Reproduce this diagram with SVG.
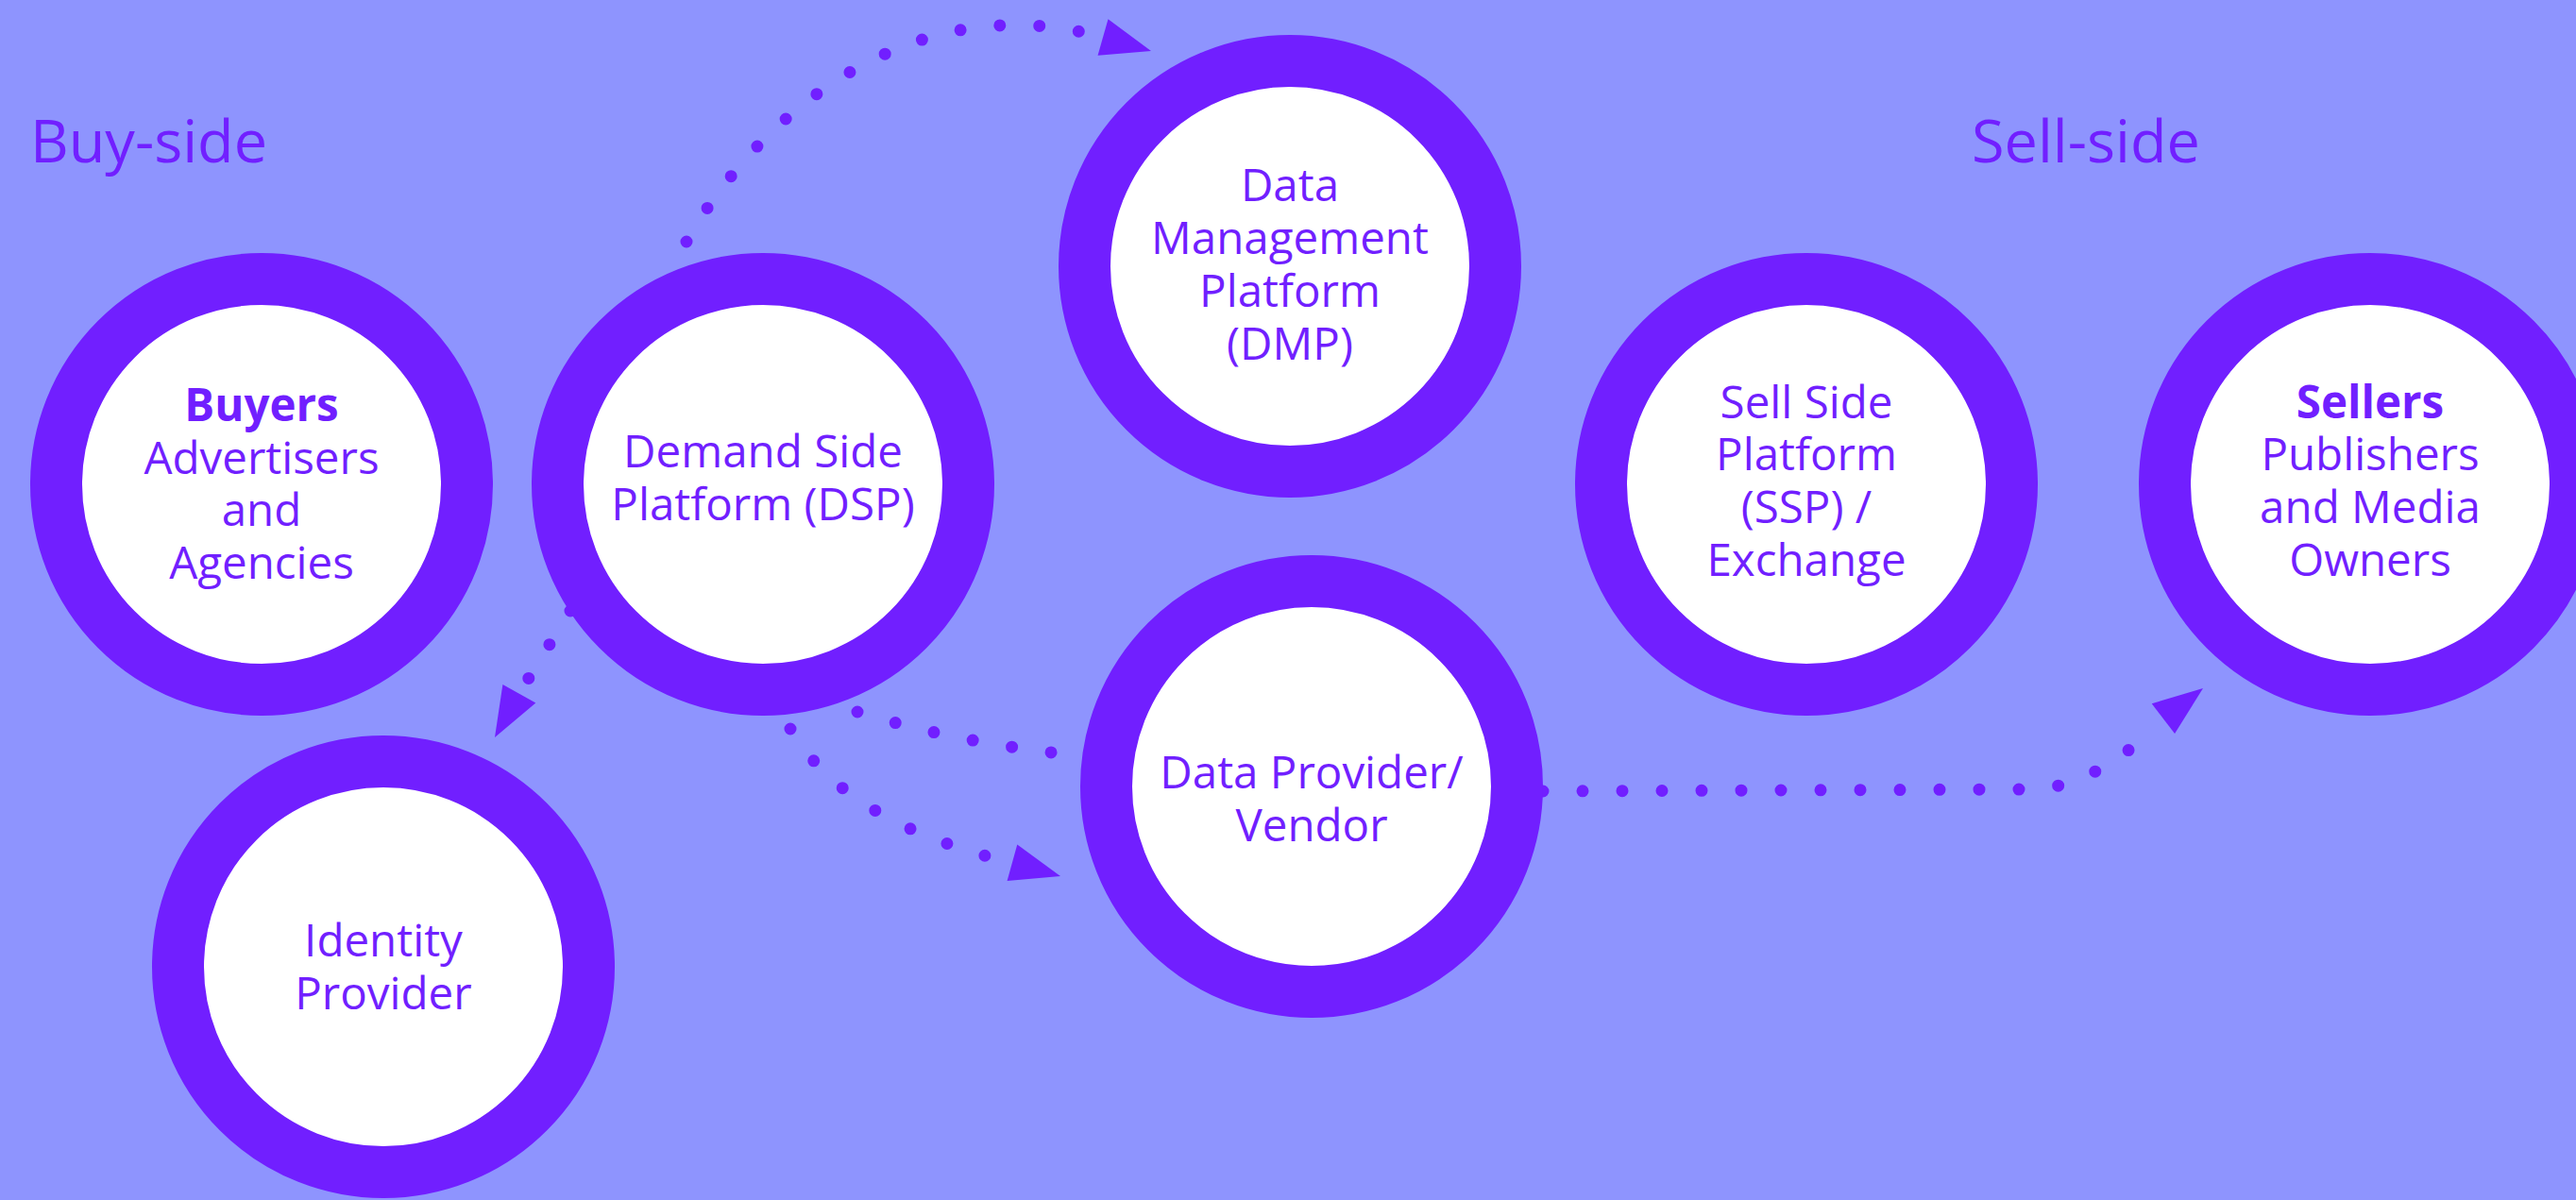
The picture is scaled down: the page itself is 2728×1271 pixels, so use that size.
<svg xmlns="http://www.w3.org/2000/svg" xmlns:xlink="http://www.w3.org/1999/xlink" width="2728" height="1271" viewBox="0 0 2728 1271">
<style>
.ring{fill:#ffffff;stroke:#711FFF;stroke-width:55}
.t{font-family:"Open Sans","Noto Sans","Liberation Sans",sans-serif;font-size:47.5px;fill:#711FFF;text-anchor:middle}
.b{font-weight:700}
.side{font-family:"Open Sans","Noto Sans","Liberation Sans",sans-serif;font-size:63px;fill:#711FFF}
.dots{fill:none;stroke:#711FFF;stroke-width:13;stroke-linecap:round;stroke-dasharray:0 42}
.ah{fill:#711FFF}
</style>
<defs>
<path id="arrow" d="M0,0 L-53,-20 L-53,20 Z"/>
</defs>
<rect x="0" y="0" width="2728" height="1271" fill="#8E94FE"/>
<text class="side" x="32" y="172">Buy-side</text>
<text class="side" x="2088" y="172">Sell-side</text>
<g id="connectors">
<path class="dots" d="M727,256 C800,126 964,-18 1168,39.5"/>
<use class="ah" xlink:href="#arrow" transform="translate(1219,54) rotate(15.9)"/>
<path class="dots" d="M604,647 L550.5,733.5"/>
<use class="ah" xlink:href="#arrow" transform="translate(524,781) rotate(119.2)"/>
<path class="dots" d="M908,754 Q1015,787 1140,800"/>
<path class="dots" d="M837,772 C880,845 965,888 1072.5,914"/>
<use class="ah" xlink:href="#arrow" transform="translate(1123,928) rotate(15.5)"/>
<path class="dots" d="M1634,838 L2150,836 Q2215,835 2285,768"/>
<use class="ah" xlink:href="#arrow" transform="translate(2333,729) rotate(-37.4)"/>
</g>
<g id="buyers">
<circle class="ring" cx="277" cy="513" r="217.5"/>
<text class="t b" x="277" y="446">Buyers</text>
<text class="t" x="277" y="501.5">Advertisers</text>
<text class="t" x="277" y="557">and</text>
<text class="t" x="277" y="612.5">Agencies</text>
</g>
<g id="dsp">
<circle class="ring" cx="808" cy="513" r="217.5"/>
<text class="t" x="808" y="495">Demand Side</text>
<text class="t" x="808" y="551">Platform (DSP)</text>
</g>
<g id="dmp">
<circle class="ring" cx="1366" cy="282" r="217.5"/>
<text class="t" x="1366" y="213">Data</text>
<text class="t" x="1366" y="269">Management</text>
<text class="t" x="1366" y="325">Platform</text>
<text class="t" x="1366" y="381">(DMP)</text>
</g>
<g id="data-provider">
<circle class="ring" cx="1389" cy="833" r="217.5"/>
<text class="t" x="1389" y="835">Data Provider/</text>
<text class="t" x="1389" y="891">Vendor</text>
</g>
<g id="ssp">
<circle class="ring" cx="1913" cy="513" r="217.5"/>
<text class="t" x="1913" y="443">Sell Side</text>
<text class="t" x="1913" y="498">Platform</text>
<text class="t" x="1913" y="554">(SSP) /</text>
<text class="t" x="1913" y="610">Exchange</text>
</g>
<g id="sellers">
<circle class="ring" cx="2510" cy="513" r="217.5"/>
<text class="t b" x="2510" y="443">Sellers</text>
<text class="t" x="2510" y="498">Publishers</text>
<text class="t" x="2510" y="554">and Media</text>
<text class="t" x="2510" y="610">Owners</text>
</g>
<g id="identity-provider">
<circle class="ring" cx="406" cy="1024" r="217.5"/>
<text class="t" x="406" y="1013">Identity</text>
<text class="t" x="406" y="1069">Provider</text>
</g>
</svg>
